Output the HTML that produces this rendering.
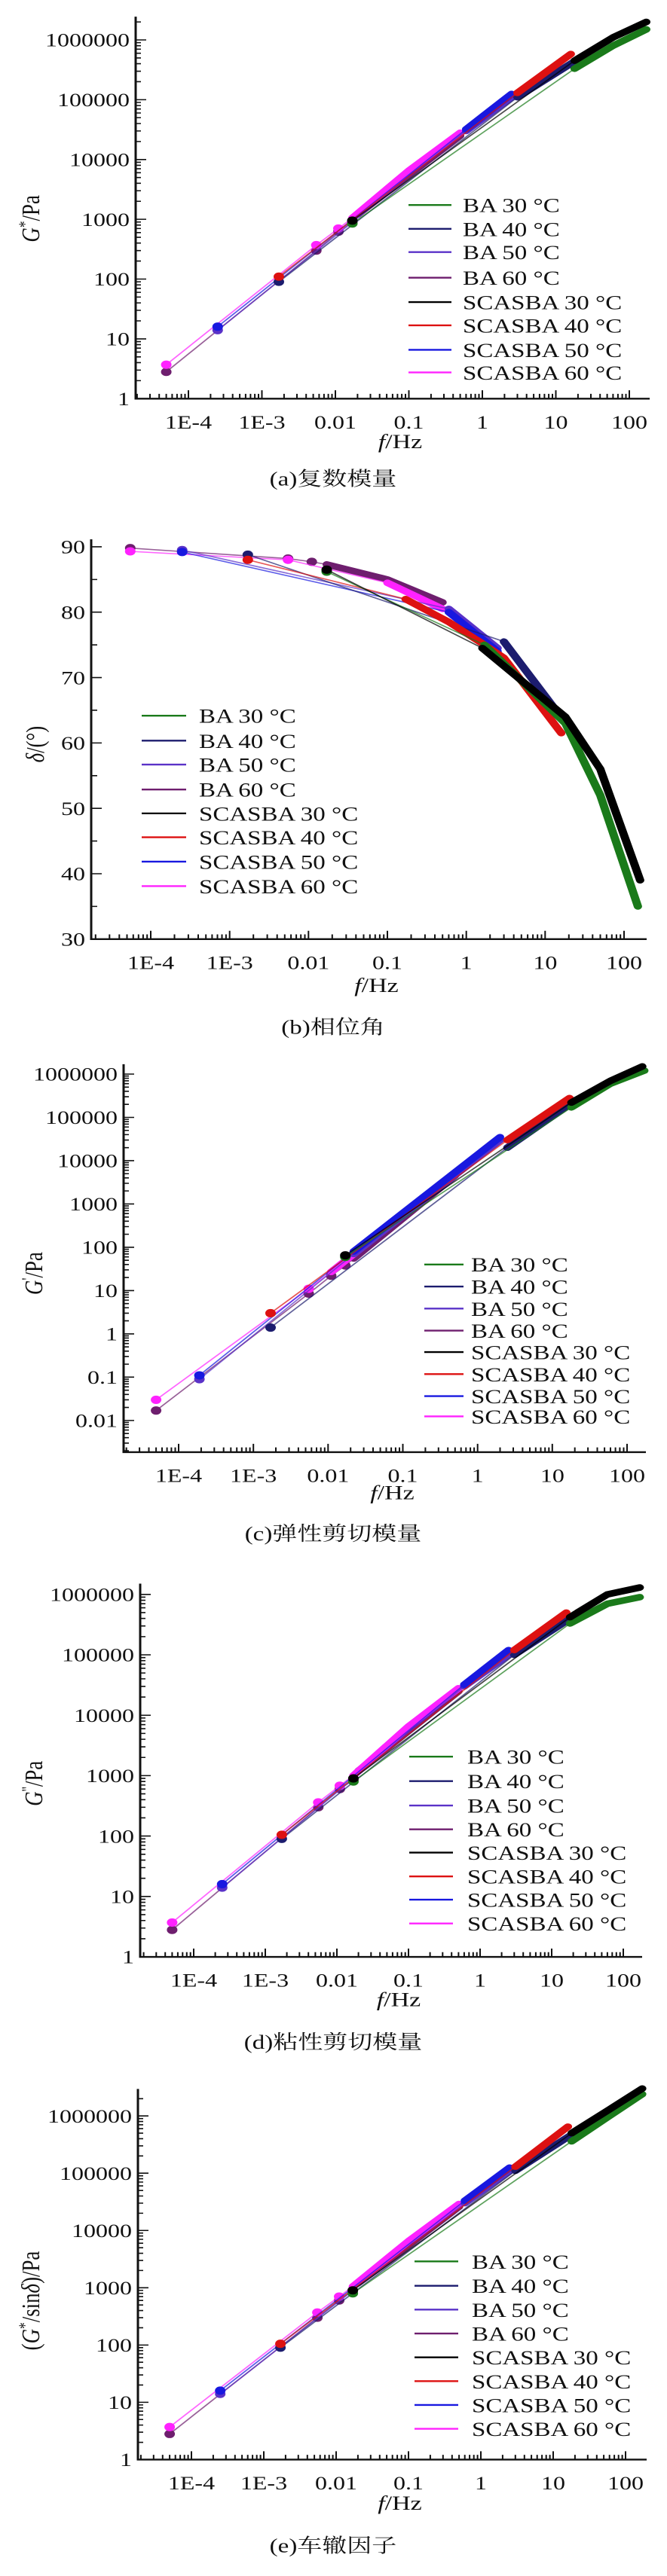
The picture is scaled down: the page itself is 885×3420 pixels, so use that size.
<!DOCTYPE html>
<html><head><meta charset="utf-8">
<style>
html,body{margin:0;padding:0;background:#fff;}
svg{display:block;}
text{font-family:"Liberation Serif","Noto Serif CJK SC",serif;fill:#111;}
</style></head>
<body>
<svg id="fig" xmlns="http://www.w3.org/2000/svg" width="885" height="3420" viewBox="0 0 885 4323" preserveAspectRatio="none"></svg>
<script>
const seriesNames=["BA 30 °C","BA 40 °C","BA 50 °C","BA 60 °C","SCASBA 30 °C","SCASBA 40 °C","SCASBA 50 °C","SCASBA 60 °C"];
const seriesColors=["#1a7a1a","#1c1c6e","#5a32c8","#6e1e6e","#000000","#dd1111","#1818e0","#ff22ff"];
const xTickExp=[-4,-3,-2,-1,0,1,2];
const xTickLabels=["1E-4","1E-3","0.01","0.1","1","10","100"];
const yTickExpA=[0,1,2,3,4,5,6];
const yTickLabelsA=["1","10","100","1000","10000","100000","1000000"];
const yTickExpC=[-2,-1,0,1,2,3,4,5,6];
const yTickLabelsC=["0.01","0.1","1","10","100","1000","10000","100000","1000000"];
const yTickValsB=[30,40,50,60,70,80,90];
const yTickLabelsB=["30","40","50","60","70","80","90"];
// data: [frequency Hz, value], series order as seriesNames
const dataA=[
 [[0.017,850],[18,330000],[60,800000],[170,1500000]],
 [[0.0017,90],[3,110000],[17,420000]],
 [[0.00025,14],[0.6,30000],[2.5,110000]],
 [[0.00005,2.8],[0.0055,300],[0.011,620],[0.017,900],[0.02,1200],[0.1,5500],[0.5,25000]],
 [[0.017,950],[18,450000],[60,1100000],[170,2000000]],
 [[0.0017,110],[3,130000],[16,580000]],
 [[0.00025,16],[0.6,32000],[2.5,125000]],
 [[0.00005,3.7],[0.0055,370],[0.011,700],[0.017,1050],[0.1,6500],[0.5,28000]]
];
const dataB=[
 [[0.017,86.2],[1.7,75],[18,63],[50,52],[150,35]],
 [[0.0017,88.8],[3,75.5],[17,63.5]],
 [[0.00025,89.5],[0.6,80.5],[2.5,74.5]],
 [[0.000055,89.8],[0.0055,88.2],[0.011,87.7],[0.017,87.3],[0.1,85],[0.5,81.5]],
 [[0.017,86.5],[1.6,74.5],[18,64],[50,56],[160,39]],
 [[0.0017,88],[0.17,82],[0.6,78.5],[1.7,75],[3,73],[16,61.5]],
 [[0.00025,89.2],[0.6,80],[2.5,74]],
 [[0.000055,89.3],[0.0055,88],[0.1,84.5],[0.5,80.5]]
];
const dataC=[
 [[0.017,60],[18,170000],[60,600000],[170,1200000]],
 [[0.0017,1.4],[2.5,20000],[17,200000]],
 [[0.00019,0.09],[0.022,70],[2,30000]],
 [[0.00005,0.017],[0.0055,8.5],[0.011,22],[0.017,38],[0.022,55],[0.5,4500]],
 [[0.017,65],[18,220000],[60,700000],[160,1500000]],
 [[0.0017,3],[2.5,30000],[17,280000]],
 [[0.00019,0.11],[0.022,80],[2,35000]],
 [[0.00005,0.03],[0.0055,11],[0.011,27],[0.5,5000]]
];
const dataD=[
 [[0.017,800],[18,330000],[60,700000],[170,900000]],
 [[0.0017,90],[3,100000],[17,380000]],
 [[0.00025,14],[0.6,30000],[2.5,100000]],
 [[0.00005,2.8],[0.0055,300],[0.011,600],[0.017,850],[0.02,1200],[0.1,5500],[0.5,25000]],
 [[0.017,900],[18,420000],[60,1000000],[170,1300000]],
 [[0.0017,105],[3,120000],[16,500000]],
 [[0.00025,16],[0.6,32000],[2.5,120000]],
 [[0.00005,3.7],[0.0055,360],[0.011,680],[0.017,1000],[0.1,6500],[0.5,28000]]
];
const dataE=[
 [[0.017,800],[18,360000],[60,1000000],[170,2400000]],
 [[0.0017,90],[3,110000],[17,450000]],
 [[0.00025,14],[0.6,30000],[2.5,110000]],
 [[0.00005,2.8],[0.0055,300],[0.011,600],[0.017,900],[0.02,1200],[0.1,5500],[0.5,26000]],
 [[0.017,900],[18,500000],[60,1300000],[170,3000000]],
 [[0.0017,105],[3,130000],[16,650000]],
 [[0.00025,16],[0.6,33000],[2.5,125000]],
 [[0.00005,3.7],[0.0055,370],[0.011,700],[0.017,1050],[0.1,6500],[0.5,29000]]
];

const NS="http://www.w3.org/2000/svg";
const svg=document.getElementById('fig');
function mk(tag,attrs,parent){const e=document.createElementNS(NS,tag);for(const k in attrs)e.setAttribute(k,attrs[k]);(parent||svg).appendChild(e);return e;}

const denseA=[1,1,1,4,1,1,1,3];
const denseB=[1,1,1,3,1,1,1,2];
const denseC=[1,1,1,4,1,1,1,2];

const charts=[
 {id:"a",data:dataA,dense:denseA,log:true,left:180,right:862,top:28,bottom:669,x1:250,x2:835,y1p:669,y1v:0,y2p:67,y2v:6,
  yt:yTickExpA,yl:yTickLabelsA,lg:{l1:542,l2:599,tx:614,rows:[344,384,423,466,507,546,587,625]},
  xlab:752,cap:815,capText:"(a)复数模量",ytitle:{x:52,y:367,html:"G",sup:"*",rest:"/Pa"}},
 {id:"b",data:dataB,dense:denseB,log:false,left:121,right:858,top:905,bottom:1576,x1:200,x2:828,y1p:1576,y1v:30,y2p:917.6,y2v:90,
  yt:yTickValsB,yl:yTickLabelsB,lg:{l1:188,l2:247,tx:264,rows:[1201,1243,1283,1325,1365,1405,1446,1487]},
  xlab:1665,cap:1735,capText:"(b)相位角",ytitle:{x:58,y:1249,delta:true}},
 {id:"c",data:dataC,dense:denseC,log:true,left:164,right:857,top:1786,bottom:2437,x1:237,x2:832,y1p:2383.8,y1v:-2,y2p:1802.5,y2v:6,
  yt:yTickExpC,yl:yTickLabelsC,lg:{l1:563,l2:615,tx:625,rows:[2122,2159,2196,2233,2269,2306,2343,2377]},
  xlab:2516,cap:2585,capText:"(c)弹性剪切模量",ytitle:{x:56,y:2137,html:"G",sup:"'",rest:"/Pa"}},
 {id:"d",data:dataD,dense:denseA,log:true,left:186,right:852,top:2657.6,bottom:3284,x1:257,x2:827,y1p:3284,y1v:0,y2p:2675.7,y2v:6,
  yt:yTickExpA,yl:yTickLabelsA,lg:{l1:543,l2:601,tx:620,rows:[2948,2989,3030,3070,3109,3149,3188,3228]},
  xlab:3367,cap:3438,capText:"(d)粘性剪切模量",ytitle:{x:56,y:2993,html:"G",sup:"''",rest:"/Pa"}},
 {id:"e",data:dataE,dense:denseA,log:true,left:183,right:858,top:3505.7,bottom:4127.6,x1:254,x2:830,y1p:4127.6,y1v:0,y2p:3550.9,y2v:6,
  yt:yTickExpA,yl:yTickLabelsA,lg:{l1:550,l2:608,tx:626,rows:[3795,3836,3876,3916,3956,3996,4036,4076]},
  xlab:4212,cap:4283,capText:"(e)车辙因子",ytitle:{x:52,y:3861,sinD:true}}
];
const drawOrder=[3,7,2,6,1,5,0,4];

charts.forEach(c=>{
 const g=mk('g',{});
 
 
 const xs=lf=>c.x1+(lf+4)*(c.x2-c.x1)/6;
 const X=f=>xs(Math.log10(f));
 const yv=v=>c.y1p+(v-c.y1v)*(c.y2p-c.y1p)/(c.y2v-c.y1v);
 const Y=v=>c.log?yv(Math.log10(v)):yv(v);
 const sg=mk('g',{},g);
 
 
 drawOrder.forEach(i=>{
  const pts=c.data[i];
  const col=seriesColors[i];
  const slug=seriesNames[i].replace(/[^A-Za-z0-9]+/g,'-').toLowerCase();
  const thin=mk('polyline',{points:pts.map(p=>X(p[0]).toFixed(1)+','+Y(p[1]).toFixed(1)).join(' '),fill:'none',stroke:col,'stroke-width':2,'stroke-opacity':0.7},sg);
  
  
  const ds=c.dense[i];
  const dense=pts.slice(ds);
  const th=mk('polyline',{points:dense.map(p=>X(p[0]).toFixed(1)+','+Y(p[1]).toFixed(1)).join(' '),fill:'none',stroke:col,'stroke-width':11,'stroke-linecap':'round','stroke-linejoin':'round'},sg);
  
  
  pts.slice(0,ds).forEach(p=>{
   const m=mk('circle',{cx:X(p[0]).toFixed(1),cy:Y(p[1]).toFixed(1),r:7,fill:col},sg);
   
   
  });
 });
 const ax=mk('path',{d:`M${c.left},${c.top} V${c.bottom} H${c.right}`,fill:'none',stroke:'#111','stroke-width':3},g);
 
 
 let td='';
 for(let d=-5;d<=2;d++){for(let k=1;k<10;k++){const x=xs(d+Math.log10(k));if(x<c.left||x>c.right)continue;td+=`M${x.toFixed(1)},${c.bottom} v${k==1?-14:-8} `;}}
 if(c.log){for(let d=c.y1v-1;d<=c.y2v+1;d++){for(let k=1;k<10;k++){const y=yv(d+Math.log10(k));if(y<c.top||y>c.bottom)continue;td+=`M${c.left},${y.toFixed(1)} h${k==1?14:7} `;}}}
 else{for(let v=30;v<=90;v+=5){td+=`M${c.left},${yv(v).toFixed(1)} h${v%10==0?14:8} `;}}
 const tk=mk('path',{d:td,stroke:'#111','stroke-width':2,fill:'none'},g);
 
 
 xTickExp.forEach((e,i)=>{
  const t=mk('text',{x:xs(e),y:c.bottom+50,'text-anchor':'middle','font-size':32},g);
  t.textContent=xTickLabels[i];
  
  
 });
 c.yt.forEach((v,i)=>{
  const t=mk('text',{x:c.left-8,y:yv(v)+11,'text-anchor':'end','font-size':32},g);
  t.textContent=c.yl[i];
  
  
 });
 const xl=mk('text',{x:(c.left+c.right)/2+10,y:c.xlab,'text-anchor':'middle','font-size':34},g);
 xl.innerHTML='<tspan font-style="italic">f</tspan>/Hz';
 
 
 const yt=mk('text',{x:0,y:0,'text-anchor':'middle','font-size':34,transform:`translate(${c.ytitle.x},${c.ytitle.y}) rotate(-90)`},g);
 if(c.ytitle.delta) yt.innerHTML='<tspan font-style="italic">δ</tspan>/(°)';
 else if(c.ytitle.sinD) yt.innerHTML='(<tspan font-style="italic">G</tspan><tspan font-size="22" dy="-12">*</tspan><tspan dy="12">/sin</tspan><tspan font-style="italic">δ</tspan>)/Pa';
 else yt.innerHTML='<tspan font-style="italic">'+c.ytitle.html+'</tspan><tspan font-size="22" dy="-12">'+c.ytitle.sup+'</tspan><tspan dy="12">'+c.ytitle.rest+'</tspan>';
 
 
 const lg=mk('g',{},g);
 
 
 seriesNames.forEach((n,i)=>{
  const y=c.lg.rows[i];
  const e=mk('g',{},lg);
  
  
  mk('line',{x1:c.lg.l1,x2:c.lg.l2,y1:y,y2:y,stroke:seriesColors[i],'stroke-width':3},e);
  const t=mk('text',{x:c.lg.tx,y:y+12,'font-size':33},e);
  t.textContent=n;
 });
 const cp=mk('text',{x:442,y:c.cap,'text-anchor':'middle','font-size':33},g);
 cp.textContent=c.capText;
 
 
});
</script>
</body></html>
